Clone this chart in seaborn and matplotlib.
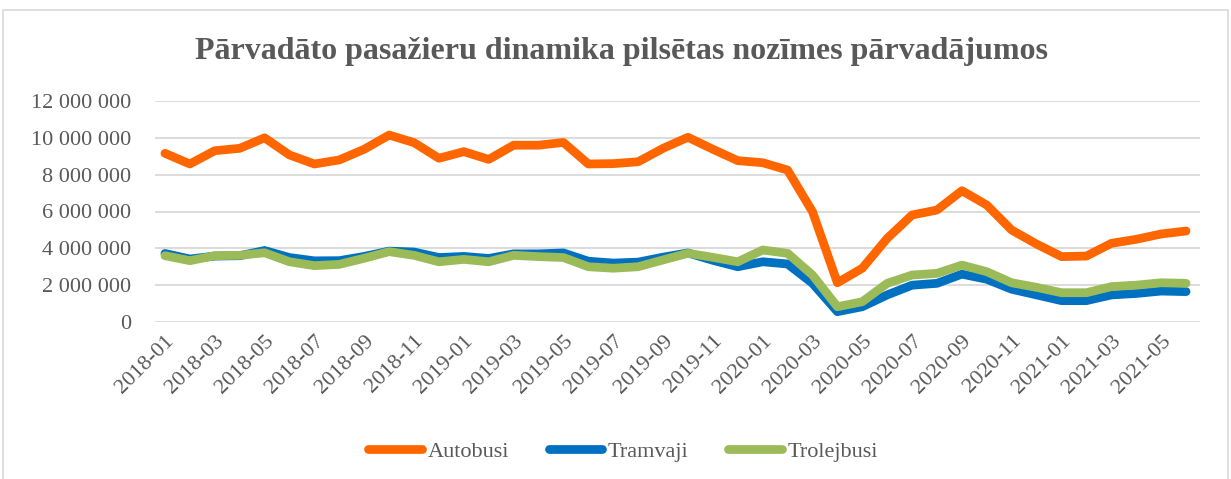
import numpy as np
import pandas as pd
import matplotlib
matplotlib.use("Agg")
import matplotlib.pyplot as plt
import seaborn as sns
from matplotlib.ticker import FuncFormatter
from matplotlib.patches import Rectangle

months = [f"{y}-{m:02d}" for y in (2018, 2019, 2020, 2021) for m in range(1, 13)][:42]

autobusi = [9.16, 8.58, 9.30, 9.43, 10.0, 9.07, 8.58, 8.80, 9.38, 10.15, 9.74, 8.89,
            9.25, 8.83, 9.60, 9.60, 9.75, 8.58, 8.60, 8.70, 9.43, 10.03, 9.38, 8.76,
            8.65, 8.25, 5.99, 2.13, 2.92, 4.54, 5.81, 6.08, 7.13, 6.35, 4.99, 4.23,
            3.55, 3.58, 4.27, 4.49, 4.78, 4.94]
tramvaji = [3.72, 3.42, 3.58, 3.60, 3.88, 3.50, 3.32, 3.33, 3.56, 3.85, 3.80, 3.50,
            3.56, 3.45, 3.70, 3.70, 3.75, 3.30, 3.20, 3.25, 3.52, 3.75, 3.35, 3.00,
            3.27, 3.15, 2.10, 0.56, 0.83, 1.47, 2.00, 2.10, 2.60, 2.32, 1.78, 1.47,
            1.16, 1.16, 1.47, 1.55, 1.68, 1.65]
trolejbusi = [3.60, 3.33, 3.60, 3.62, 3.76, 3.27, 3.06, 3.13, 3.46, 3.82, 3.62, 3.27,
              3.40, 3.27, 3.62, 3.55, 3.50, 3.00, 2.92, 3.00, 3.37, 3.73, 3.51, 3.27,
              3.91, 3.73, 2.55, 0.83, 1.10, 2.10, 2.55, 2.64, 3.09, 2.73, 2.13, 1.88,
              1.59, 1.59, 1.92, 2.00, 2.13, 2.10]

series_names = ["Autobusi", "Tramvaji", "Trolejbusi"]
colors = ["#FF6600", "#0070C0", "#9BBB59"]
title = "Pārvadāto pasažieru dinamika pilsētas nozīmes pārvadājumos"

df = pd.DataFrame({
    "idx": list(range(len(months))) * 3,
    "value": np.array(autobusi + tramvaji + trolejbusi) * 1e6,
    "series": sum([[n] * len(months) for n in series_names], []),
})

sns.set_theme(style="white")
plt.rcParams["font.family"] = ["Liberation Serif", "DejaVu Serif"]

fig = plt.figure(figsize=(12.31, 4.79), dpi=100)
ax = fig.add_axes([155/1231, 1-322/479, (1200-155)/1231, (322-101)/479])

sns.lineplot(data=df, x="idx", y="value", hue="series", hue_order=series_names,
             palette=colors, linewidth=6.3, ax=ax, legend=True,
             solid_capstyle="round", solid_joinstyle="round")

ax.set_xlim(-0.4, 41.56)
ax.set_ylim(0, 12e6)
ax.set_yticks(np.arange(0, 12e6 + 1, 2e6))
ax.yaxis.set_major_formatter(FuncFormatter(lambda v, p: f"{int(v):,}".replace(",", " ")))
ax.set_xticks(range(0, len(months), 2))
ax.set_xticklabels(months[::2], rotation=45, ha="right", rotation_mode="anchor")
ax.tick_params(axis="x", labelsize=16, colors="#595959", pad=7, length=0)
ax.tick_params(axis="y", labelsize=16, colors="#595959", pad=17, length=0)
ax.grid(axis="y", color="#D9D9D9", linewidth=1.3)
ax.set_axisbelow(True)
for s in ax.spines.values():
    s.set_visible(False)
ax.set_xlabel("")
ax.set_ylabel("")

fig.text(0.505, 1-51/479, title, ha="center", va="center", fontsize=23,
         fontweight="bold", color="#595959")

leg = ax.legend(loc="center", bbox_to_anchor=(0.448, 1-(452-101)/221), ncol=3,
                frameon=False, fontsize=16, handlelength=2.4, handletextpad=0.25,
                columnspacing=1.8)
for t in leg.get_texts():
    t.set_color("#595959")
for h in leg.get_lines():
    h.set_linewidth(6.3)
    h.set_solid_capstyle("round")

fig.patches.append(Rectangle((3/1231, -0.05), 1225/1231, 1-10/479+0.05,
                             transform=fig.transFigure, fill=False,
                             edgecolor="#D9D9D9", linewidth=1.2))

fig.savefig("out.png", dpi=100)
